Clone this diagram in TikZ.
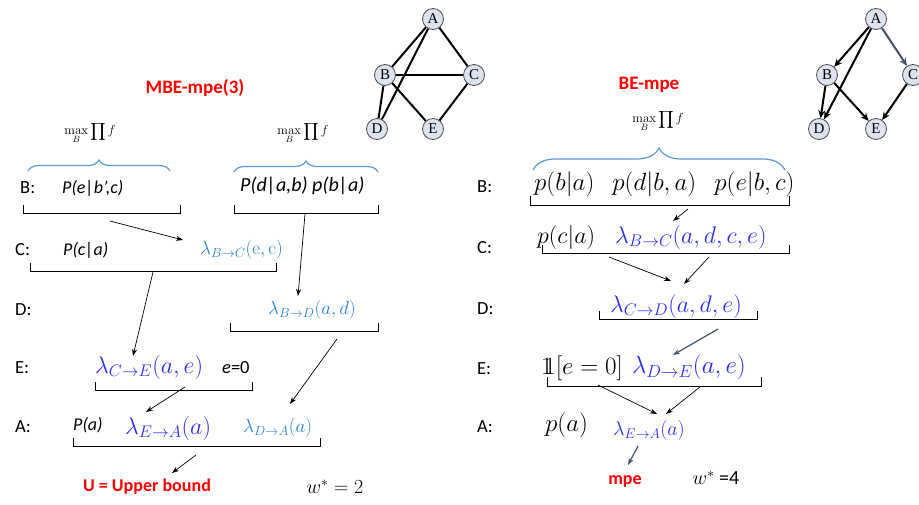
\documentclass[tikz,border=0pt]{standalone}
\usepackage{fix-cm}
\usepackage{exscale}
\usepackage[no-math]{fontspec}
\setmainfont{Carlito}
\newfontfamily\gfont{Liberation Serif}
\usetikzlibrary{arrows.meta,decorations.pathreplacing}
\definecolor{lblue}{RGB}{40,130,210}
\definecolor{dblue}{RGB}{45,45,240}
\definecolor{bracecol}{RGB}{91,155,213}
\definecolor{gblue}{RGB}{68,84,106}
\definecolor{gfill}{RGB}{220,227,238}
\definecolor{tred}{RGB}{255,0,0}
\newcommand{\fs}[1]{\fontsize{#1}{#1}\selectfont}
\begin{document}
\begin{tikzpicture}[x=1pt,y=-1pt,
  lab/.style={anchor=west,inner sep=0pt,font=\fs{18.5}},
  txt/.style={anchor=west,inner sep=0pt,font=\fs{18}\itshape},
  mth/.style={anchor=west,inner sep=0pt},
  ttl/.style={inner sep=0pt,font=\fs{19}\bfseries,text=tred},
  gnode/.style={circle,draw=black!70,fill=gfill,minimum size=21pt,inner sep=0pt,line width=0.8pt,font=\gfont\fs{15}},
  gedge/.style={line width=2pt},
  garr/.style={line width=2pt,-{Stealth[length=8pt,width=7pt]}},
  bkt/.style={line width=0.8pt},
  brc/.style={decorate,draw=bracecol,line width=1.2pt},
  arr/.style={-{Stealth[length=7pt,width=5pt]},line width=0.7pt},
  mx/.style={inner sep=0pt,font=\fs{13}},
  ]
\fill[white] (0,0) rectangle (919,504);
\useasboundingbox (0,0) rectangle (919,504);

% ---------- left graph ----------
\node[gnode] (A) at (433,19) {A};
\node[gnode] (B) at (385,75) {B};
\node[gnode] (C) at (474,75) {C};
\node[gnode] (D) at (377,129) {D};
\node[gnode] (E) at (433,129) {E};
\draw[gedge] (A) -- (B);
\draw[gedge] (A) -- (C);
\draw[gedge] (A) -- (D);
\draw[gedge] (B) -- (C);
\draw[gedge] (B) -- (D);
\draw[gedge] (B) -- (E);
\draw[gedge] (C) -- (E);

% ---------- right graph ----------
\node[gnode] (A2) at (876,19) {A};
\node[gnode] (B2) at (827,75) {B};
\node[gnode] (C2) at (913,75) {C};
\node[gnode] (D2) at (819,129) {D};
\node[gnode] (E2) at (876,129) {E};
\draw[garr] (A2) -- (B2);
\draw[garr] (A2) -- (D2);
\draw[garr,draw=gblue] (A2) -- (C2);
\draw[garr] (B2) -- (D2);
\draw[garr] (B2) -- (E2);
\draw[garr] (C2) -- (E2);

% ---------- left: MBE ----------
\node[ttl] (t1) at (195,88) {MBE-mpe(3)};
\node[mx] (m1) at (90,133) {$\displaystyle\max_{B}\prod f$};
\node[mx] (m2) at (303,133) {$\displaystyle\max_{B}\prod f$};
\draw[brc,decoration={brace,amplitude=11pt}] (28,171) -- (170,171);
\draw[brc,decoration={brace,amplitude=11pt}] (234,172) -- (378,172);

\node[lab] (lB) at (20,188) {B:};
\node[txt] (lB1) at (62,188) {P(e|b',c)};
\node[txt,font=\fs{20}\itshape] (lB2) at (240,186) {P(d|a,b) p(b|a)};
\draw[bkt] (23,205) -- (23,213) -- (180,213) -- (180,205);
\draw[bkt] (234,205) -- (234,213) -- (378,213) -- (378,205);

\node[lab] (lC) at (15,250) {C:};
\node[txt] (lC1) at (63,250) {P(c|a)};
\node[mth,text=lblue,font=\fs{19}] (lC2) at (200,250) {$\lambda_{B\to C}(\mathrm{e},\mathrm{c})$};
\draw[bkt] (30,263) -- (30,271) -- (276,271) -- (276,263);

\node[lab] (lD) at (15,310) {D:};
\node[mth,text=lblue,font=\fs{19}] (lD1) at (268,310) {$\lambda_{B\to D}(a,d)$};
\draw[bkt] (230,323) -- (230,331) -- (378,331) -- (378,323);

\node[lab] (lE) at (15,368) {E:};
\node[mth,text=dblue,font=\fs{24}] (lE1) at (95,367) {$\lambda_{C\to E}(a,e)$};
\node[lab] (lE2) at (222,368) {\itshape e\upshape =0};
\draw[bkt] (95,382) -- (95,390) -- (252,390) -- (252,382);

\node[lab] (lA) at (15,427) {A:};
\node[txt] (lA1) at (73,425) {P(a)};
\node[mth,text=dblue,font=\fs{24}] (lA2) at (125,428) {$\lambda_{E\to A}(a)$};
\node[mth,text=lblue,font=\fs{19}] (lA3) at (243,428) {$\lambda_{D\to A}(a)$};
\draw[bkt] (73,438) -- (73,446) -- (320,446) -- (320,438);

\node[ttl,font=\fs{18}\bfseries] (ub) at (147,487) {U = Upper bound};
\node[inner sep=0pt,font=\fs{20}] (w1) at (335,487) {$w^* = 2$};

\coordinate (a1s) at (110,221); \coordinate (a1e) at (183,240);
\coordinate (a2s) at (305,214); \coordinate (a2e) at (298,296);
\coordinate (a3s) at (153,272); \coordinate (a3e) at (133,356);
\coordinate (a4s) at (337,339); \coordinate (a4e) at (290,404);
\coordinate (a5s) at (185,387); \coordinate (a5e) at (146,412);
\coordinate (a6s) at (196,455); \coordinate (a6e) at (172,473);
\draw[arr] (a1s) -- (a1e);
\draw[arr] (a2s) -- (a2e);
\draw[arr] (a3s) -- (a3e);
\draw[arr] (a4s) -- (a4e);
\draw[arr] (a5s) -- (a5e);
\draw[arr] (a6s) -- (a6e);

% ---------- right: BE ----------
\node[ttl] (t2) at (649,85) {BE-mpe};
\node[mx] (m3) at (658,121) {$\displaystyle\max_{B}\prod f$};
\draw[brc,decoration={brace,amplitude=22pt}] (533,170) -- (785,170);

\node[lab] (rB) at (477,187) {B:};
\node[mth,font=\fs{25}] (rB1) at (534,184) {$p(b|a)\;\;\,p(d|b,a)\;\;\,p(e|b,c)$};
\draw[bkt] (530,196) -- (530,205) -- (789,205) -- (789,196);

\node[lab] (rC) at (477,248) {C:};
\node[mth,font=\fs{24}] (rC1) at (537,237) {$p(c|a)$};
\node[mth,text=dblue,font=\fs{24}] (rC2) at (615,237) {$\lambda_{B\to C}(a,d,c,e)$};
\draw[bkt] (542,245) -- (542,253) -- (789,253) -- (789,245);

\node[lab] (rD) at (477,309) {D:};
\node[mth,text=dblue,font=\fs{24}] (rD1) at (610,306) {$\lambda_{C\to D}(a,d,e)$};
\draw[bkt] (599,311) -- (599,319) -- (757,319) -- (757,311);

\node[lab] (rE) at (477,369) {E:};
\node[mth,font=\fs{25}] (rE1) at (541,368) {$1\!\!1[e=0]$};
\node[mth,text=dblue,font=\fs{25}] (rE2) at (632,367) {$\lambda_{D\to E}(a,e)$};
\draw[bkt] (547,377) -- (547,386) -- (761,386) -- (761,377);

\node[lab] (rA) at (477,427) {A:};
\node[mth,font=\fs{25}] (rA1) at (545,425) {$p(a)$};
\node[mth,text=dblue,font=\fs{20}] (rA2) at (613,430) {$\lambda_{E\to A}(a)$};

\node[ttl,font=\fs{18}\bfseries] (mpe) at (625,481) {mpe};
\node[inner sep=0pt,font=\fs{20}] (w2) at (716,478) {$w^*$ =4};

\coordinate (b1s) at (688,209); \coordinate (b1e) at (673,221);
\coordinate (b2s) at (609,257); \coordinate (b2e) at (671,281);
\coordinate (b3s) at (709,257); \coordinate (b3e) at (684,284);
\coordinate (b4s) at (718,329); \coordinate (b4e) at (673,355);
\coordinate (b5s) at (598,385); \coordinate (b5e) at (657,414);
\coordinate (b6s) at (700,387); \coordinate (b6e) at (666,414);
\coordinate (b7s) at (638,446); \coordinate (b7e) at (628,465);
\draw[arr] (b1s) -- (b1e);
\draw[arr] (b2s) -- (b2e);
\draw[arr] (b3s) -- (b3e);
\draw[arr,draw=gblue,line width=1.2pt] (b4s) -- (b4e);
\draw[arr] (b5s) -- (b5e);
\draw[arr] (b6s) -- (b6e);
\draw[arr,draw=gblue,line width=1.2pt] (b7s) -- (b7e);
\end{tikzpicture}
\end{document}
